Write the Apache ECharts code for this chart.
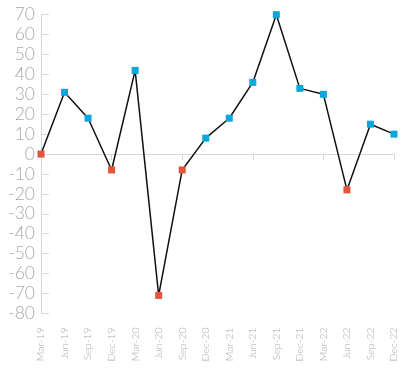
<!DOCTYPE html>
<html><head><meta charset="utf-8">
<script src="https://cdn.jsdelivr.net/npm/echarts@6/dist/echarts.min.js"></script>
<style>html,body{margin:0;padding:0;background:#fff}#c{width:411px;height:371px}</style>
</head><body><div id="c"></div>
<script>
const categories = ['Mar-19','Jun-19','Sep-19','Dec-19','Mar-20','Jun-20','Sep-20','Dec-20','Mar-21','Jun-21','Sep-21','Dec-21','Mar-22','Jun-22','Sep-22','Dec-22'];
const values = [0, 31, 18, -8, 42, -71, -8, 8, 18, 36, 70, 33, 30, -18, 15, 10];
const yTicks = {min: -80, max: 70, interval: 10};
const RED = '#e5533c', BLUE = '#0aa6dc';
const chart = echarts.init(document.getElementById('c'));
chart.setOption({
  animation: false,
  grid: {left: 41, right: 17, top: 14.7, bottom: 57.7},
  xAxis: [{
    type: 'category', data: categories, boundaryGap: false,
    axisLine: {onZero: true, lineStyle: {color: '#d8d8d8', width: 1}},
    axisTick: {show: true, length: 6, lineStyle: {color: '#d8d8d8'}},
    axisLabel: {show: false}
  }, {
    type: 'category', data: categories, boundaryGap: false, position: 'bottom',
    axisLine: {show: false, onZero: false}, axisTick: {show: false},
    axisLabel: {rotate: 90, color: '#aaaaaa', fontSize: 10.5, fontFamily: 'Lato', fontWeight: 300, margin: 14}
  }],
  yAxis: {
    type: 'value', min: yTicks.min, max: yTicks.max, interval: yTicks.interval,
    splitLine: {show: false},
    axisLine: {show: true, lineStyle: {color: '#d8d8d8'}},
    axisTick: {show: true, inside: true, length: 8, lineStyle: {color: '#d8d8d8'}},
    axisLabel: {color: '#a8a8a8', fontSize: 17.5, fontFamily: 'Lato', fontWeight: 300, margin: 6}
  },
  series: [{
    type: 'line', xAxisIndex: 0, data: values,
    symbol: 'rect', symbolSize: 7,
    lineStyle: {color: '#111', width: 1.5},
    itemStyle: {color: (p) => p.value <= 0 ? RED : BLUE},
    z: 3
  }]
});
</script></body></html>
